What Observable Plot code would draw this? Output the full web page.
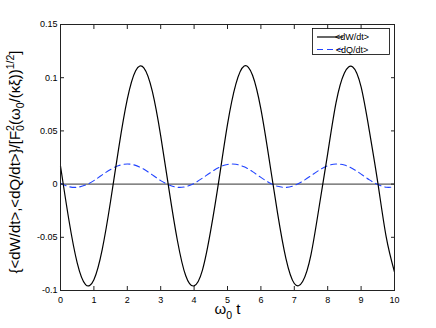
<!DOCTYPE html>
<html><head><meta charset="utf-8">
<script src="https://cdn.jsdelivr.net/npm/d3@7"></script>
<script src="https://cdn.jsdelivr.net/npm/@observablehq/plot@0.6"></script>
<style>body{margin:0;background:#fff} svg{display:block}</style>
</head><body><div id="chart"></div>
<script>
// omega_0 t sample points
const t = [0, 0.25, 0.5, 0.75, 1, 1.25, 1.5, 1.75, 2, 2.25, 2.5, 2.75, 3, 3.25, 3.5, 3.75, 4, 4.25, 4.5, 4.75, 5,
  5.25, 5.5, 5.75, 6, 6.25, 6.5, 6.75, 7, 7.25, 7.5, 7.75, 8, 8.25, 8.5, 8.75, 9, 9.25, 9.5, 9.75, 10];
// <dW/dt> (solid black)
const dW = [0.0170, -0.0335, -0.0740, -0.0944, -0.0898, -0.0613, -0.0159, 0.0353, 0.0798, 0.1066, 0.1091,
  0.0871, 0.0454, -0.0054, -0.0530, -0.0862, -0.0956, -0.0808, -0.0431, 0.0052, 0.0561,
  0.0939, 0.1109, 0.1023, 0.0705, 0.0228, -0.0276, -0.0701, -0.0934, -0.0915, -0.0662,
  -0.0201, 0.0287, 0.0765, 0.1044, 0.1101, 0.0913, 0.0495, 0.0014, -0.0494, -0.0826];
// <dQ/dt> (dashed blue)
const dQ = [0.0007, -0.0024, -0.0030, -0.0009, 0.0033, 0.0087, 0.0138, 0.0175, 0.0189, 0.0176, 0.0139,
  0.0087, 0.0033, -0.0009, -0.0030, -0.0024, 0.0007, 0.0056, 0.0110, 0.0157, 0.0185,
  0.0186, 0.0162, 0.0117, 0.0063, 0.0013, -0.0021, -0.0031, -0.0013, 0.0027, 0.0079,
  0.0132, 0.0172, 0.0189, 0.0179, 0.0145, 0.0094, 0.0040, -0.0004, -0.0029, -0.0026];
const xTicks = [0, 1, 2, 3, 4, 5, 6, 7, 8, 9, 10];
const yTicks = [-0.1, -0.05, 0, 0.05, 0.1, 0.15];
const seriesNames = ["<dW/dt>", "<dQ/dt>"];
const seriesColors = ["#000000", "#2244ff"];

const rows = t.map((tt, i) => ({t: tt, w: dW[i], q: dQ[i]}));
const font = "'Liberation Sans', Arial, Helvetica, sans-serif";

const chart = Plot.plot({
  width: 436, height: 328,
  marginLeft: 60, marginRight: 42, marginTop: 24, marginBottom: 38,
  style: {fontFamily: font, fontSize: "9px", background: "white", color: "#000", overflow: "visible"},
  x: {domain: [0, 10]},
  y: {domain: [-0.1, 0.15]},
  marks: [
    Plot.ruleY([0], {stroke: "#333", strokeWidth: 1}),
    Plot.line(rows, {x: "t", y: "q", stroke: seriesColors[1], strokeWidth: 1.1, strokeDasharray: "6,4", curve: "natural"}),
    Plot.line(rows, {x: "t", y: "w", stroke: seriesColors[0], strokeWidth: 1.2, curve: "natural"}),
    Plot.frame({stroke: "#222"}),
    Plot.axisX(xTicks, {anchor: "bottom", tickSize: -4, tickPadding: 10, tickFormat: d => String(d), label: null, stroke: "#222"}),
    Plot.axisX(xTicks, {anchor: "top", tickSize: -4, tickFormat: () => "", label: null, stroke: "#222"}),
    Plot.axisY(yTicks, {anchor: "left", tickSize: -4, tickPadding: 7, tickFormat: d => String(d), label: null, stroke: "#222"}),
    Plot.axisY(yTicks, {anchor: "right", tickSize: -4, tickFormat: () => "", label: null, stroke: "#222"})
  ]
});
document.getElementById("chart").appendChild(chart);

const svg = d3.select(chart);
// x label: ω0 t
const xl = svg.append("text").attr("x", 227.5).attr("y", 314).attr("text-anchor", "middle")
  .style("font-family", font).style("font-size", "15px").attr("fill", "#000");
xl.append("tspan").text("ω");
xl.append("tspan").attr("dy", 4.5).style("font-size", "10.5px").text("0");
xl.append("tspan").attr("dy", -4.5).text(" t");

// y label
const yl = svg.append("text").attr("transform", "translate(19.5,162) rotate(-90)").attr("text-anchor", "middle")
  .style("font-family", font).style("font-size", "15px").attr("fill", "#000");
yl.append("tspan").text("{<dW/dt>,<dQ/dt>}/[F");
yl.append("tspan").attr("dy", 4.5).style("font-size", "10.5px").text("0");
yl.append("tspan").attr("dx", -5.8).attr("dy", -10.5).style("font-size", "10.5px").text("2");
yl.append("tspan").attr("dy", 6).text("(ω");
yl.append("tspan").attr("dy", 4.5).style("font-size", "10.5px").text("0");
yl.append("tspan").attr("dy", -4.5).text("/(κξ))");
yl.append("tspan").attr("dy", -6).style("font-size", "10.5px").text("1/2");
yl.append("tspan").attr("dy", 6).text("]");

// legend
const lg = svg.append("g");
lg.append("rect").attr("x", 312.5).attr("y", 28.5).attr("width", 77).attr("height", 26)
  .attr("fill", "white").attr("stroke", "#000").attr("stroke-width", 0.8);
const rowsY = [37, 49.5];
seriesNames.forEach((name, i) => {
  lg.append("line").attr("x1", 317).attr("x2", 343).attr("y1", rowsY[i]).attr("y2", rowsY[i])
    .attr("stroke", seriesColors[i]).attr("stroke-width", i ? 1.1 : 1.2)
    .attr("stroke-dasharray", i ? "6,4" : null);
  lg.append("text").attr("x", 352).attr("y", rowsY[i]).attr("dy", "0.35em")
    .style("font-family", font).style("font-size", "9px").attr("fill", "#000").text(name);
});
</script>
</body></html>
